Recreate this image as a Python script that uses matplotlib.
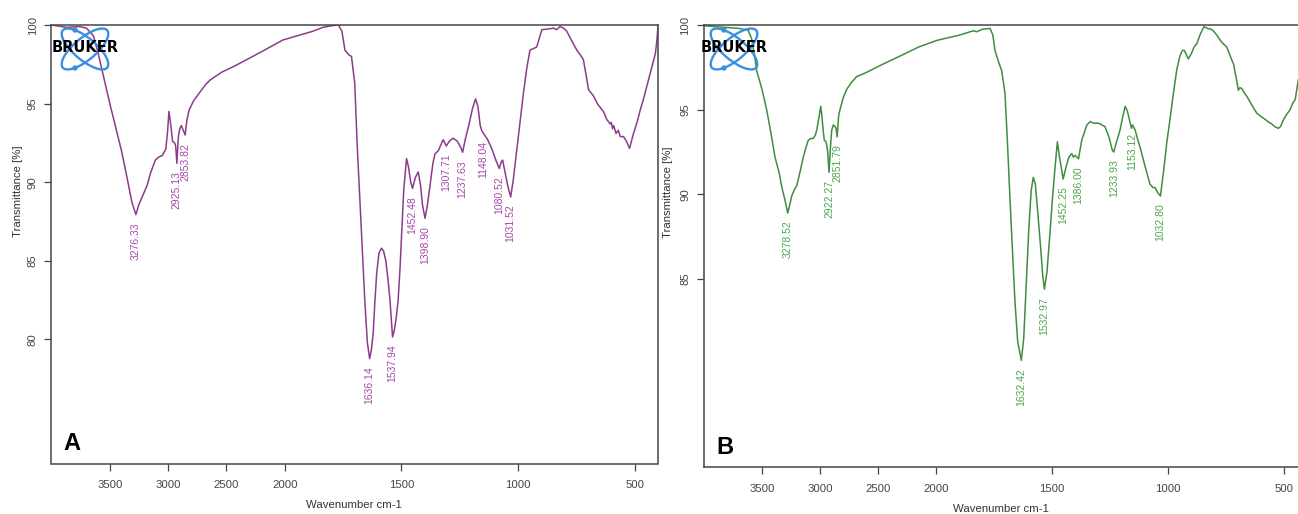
import numpy as np
import matplotlib
matplotlib.use("Agg")
import matplotlib.pyplot as plt
from matplotlib.patches import Ellipse, Circle

plt.rcParams['font.family'] = ['Liberation Sans', 'DejaVu Sans']

# spectrum A (wavenumber cm-1, transmittance %)
wn_a = [4000, 3870, 3760, 3700, 3640, 3600, 3550, 3500, 3450, 3400, 3350, 3310,
        3276.33, 3250, 3220, 3180, 3150, 3110, 3080, 3050, 3020, 3005, 2993,
        2980, 2962, 2945, 2935, 2925.13, 2912, 2900, 2887, 2870, 2853.82, 2840,
        2820, 2780, 2730, 2680, 2640, 2540, 2440, 2300, 2150, 2015, 1950, 1880,
        1837, 1800, 1770, 1755, 1742, 1725, 1714, 1700, 1690, 1678, 1667, 1657,
        1646, 1636.14, 1628, 1621, 1614, 1606, 1596, 1585, 1576, 1567, 1558,
        1549, 1542, 1537.94, 1530, 1522, 1514, 1506, 1499, 1490, 1478, 1470,
        1460, 1452.48, 1440, 1428, 1418, 1410, 1398.90, 1390, 1378, 1365, 1356,
        1342, 1330, 1321, 1314, 1307.71, 1295, 1278, 1260, 1245, 1237.63, 1225,
        1213, 1195, 1182, 1172, 1162, 1156, 1148.04, 1130, 1113, 1095, 1080.52,
        1072, 1066, 1055, 1043, 1031.52, 1020, 1006, 990, 977, 963, 949, 935,
        920, 908, 898, 870, 848, 835, 820, 805, 791, 770, 748, 733, 720, 708,
        698, 688, 677, 660, 645, 634, 620, 605, 600, 595, 590, 580, 570, 562,
        548, 535, 522, 514, 505, 490, 476, 462, 448, 436, 426, 418, 411, 405, 400]
t_a = [100.0, 99.85, 99.9, 99.8, 99.3, 98.2, 96.6, 95.0, 93.5, 92.0, 90.2, 88.7,
       87.94, 88.6, 89.1, 89.8, 90.6, 91.4, 91.6, 91.7, 92.1, 93.2, 94.5,
       93.8, 92.6, 92.5, 92.3, 91.2, 92.9, 93.4, 93.6, 93.3, 93.0, 93.9,
       94.6, 95.2, 95.7, 96.2, 96.5, 97.0, 97.35, 97.9, 98.5, 99.05, 99.3, 99.6,
       99.85, 99.95, 100.0, 99.6, 98.4, 98.1, 98.0, 96.3, 92.5, 88.85, 85.5, 82.5,
       79.8, 78.77, 79.4, 80.4, 82.3, 84.2, 85.5, 85.8, 85.6, 85.0, 83.9,
       82.5, 81.0, 80.15, 80.6, 81.4, 82.5, 84.5, 86.7, 89.5, 91.5, 91.0,
       90.0, 89.6, 90.3, 90.65, 89.8, 88.6, 87.7, 88.4, 89.7, 91.2, 91.8,
       92.0, 92.4, 92.7, 92.5, 92.3, 92.6, 92.8, 92.6, 92.2, 91.9, 92.8,
       93.5, 94.7, 95.3, 94.8, 93.6, 93.3, 93.1, 92.7, 92.15, 91.4, 90.87,
       91.3, 91.4, 90.6, 89.7, 89.06, 90.2, 92.0, 94.0, 95.65, 97.2, 98.4, 98.5,
       98.6, 99.2, 99.7, 99.75, 99.8, 99.7, 99.9, 99.8, 99.6, 99.0, 98.4, 98.1, 97.8, 96.8,
       95.9, 95.7, 95.5, 95.0, 94.7, 94.5, 94.0, 93.7, 93.8, 93.4, 93.6, 93.1, 93.3, 92.9,
       92.9, 92.6, 92.15, 92.6, 93.1, 93.8, 94.6, 95.3, 96.1, 96.8, 97.35, 97.8, 98.2, 99.0, 99.9]

# spectrum B
wn_b = [4000, 3990, 3890, 3700, 3620, 3590, 3560, 3546, 3500, 3460, 3420, 3388,
        3350, 3330, 3300, 3278.52, 3260, 3244, 3220, 3201, 3170, 3144, 3120,
        3101, 3080, 3058, 3040, 3028, 3010, 2994, 2985, 2970, 2963, 2948, 2935,
        2922.27, 2910, 2899, 2885, 2870, 2862, 2851.79, 2840, 2828, 2800, 2770,
        2730, 2684, 2600, 2454, 2300, 2150, 1994, 1900, 1839, 1825, 1800, 1767,
        1755, 1746, 1730, 1717, 1703, 1692, 1681, 1670, 1660, 1648, 1632.42,
        1622, 1612, 1600, 1590, 1581, 1572, 1562, 1550, 1540, 1532.97, 1522,
        1509, 1498, 1487, 1477, 1468, 1458, 1452.25, 1440, 1430, 1422, 1415,
        1408, 1400, 1386.00, 1372, 1360, 1350, 1335, 1322, 1300, 1285, 1272,
        1255, 1240, 1233.93, 1220, 1207, 1195, 1185, 1175, 1165, 1158, 1153.12,
        1142, 1130, 1121, 1100, 1078, 1065, 1056, 1045, 1032.80, 1020, 1006,
        990, 977, 962, 948, 938, 930, 920, 913, 900, 888, 876, 860, 845, 830,
        815, 805, 790, 770, 747, 733, 718, 708, 697, 690, 682, 672, 661, 640,
        618, 600, 589, 570, 553, 540, 525, 515, 503, 490, 474, 462, 452, 445, 439]
t_b = [100.0, 99.95, 99.9, 99.8, 99.7, 99.2, 98.0, 97.3, 96.2, 95.0, 93.5, 92.2,
       91.2, 90.45, 89.6, 88.9, 89.4, 89.9, 90.3, 90.5, 91.4, 92.2, 92.8,
       93.2, 93.3, 93.3, 93.5, 93.8, 94.5, 95.2, 94.7, 93.6, 93.2, 93.1, 92.6,
       91.3, 92.8, 93.8, 94.1, 94.0, 93.9, 93.4, 94.6, 95.0, 95.7, 96.2,
       96.6, 96.95, 97.2, 97.7, 98.2, 98.7, 99.1, 99.4, 99.66, 99.6, 99.75, 99.8,
       99.4, 98.5, 97.8, 97.3, 96.0, 93.0, 89.65, 86.5, 83.7, 81.3, 80.2,
       81.5, 84.5, 88.0, 90.2, 91.0, 90.6, 89.0, 87.0, 85.2, 84.4, 85.4,
       87.7, 89.8, 91.6, 93.1, 92.2, 91.4, 90.9, 91.6, 92.1, 92.3, 92.4,
       92.2, 92.3, 92.1, 93.2, 93.7, 94.1, 94.3, 94.2, 94.2, 94.1, 94.0,
       93.4, 92.6, 92.5, 93.2, 93.8, 94.6, 95.2, 94.9, 94.3, 93.9, 94.1,
       93.8, 93.2, 92.8, 91.7, 90.6, 90.4, 90.4, 90.1, 89.9, 91.3, 93.0,
       94.6, 95.96, 97.4, 98.2, 98.5, 98.5, 98.2, 98.0, 98.3, 98.7, 98.9, 99.5, 99.9, 99.8,
       99.75, 99.66, 99.4, 99.0, 98.7, 98.2, 97.7, 97.0, 96.15, 96.3, 96.25, 96.0, 95.8, 95.3,
       94.8, 94.6, 94.5, 94.3, 94.15, 94.0, 93.9, 94.0, 94.4, 94.7, 95.0, 95.4, 95.6, 96.2, 96.75]

# labelled band positions
peaks_a = [3276.33, 2925.13, 2853.82, 1636.14, 1537.94, 1452.48, 1398.90,
           1307.71, 1237.63, 1148.04, 1080.52, 1031.52]
peaks_b = [3278.52, 2922.27, 2851.79, 1632.42, 1532.97, 1452.25, 1386.00,
           1233.93, 1153.12, 1032.80]

xticks = [3500, 3000, 2500, 2000, 1500, 1000, 500]

W, H = 1298, 514
AXIS_COL = '#454545'


def fwd(x):
    # OPUS style axis: the range above 2000 cm-1 is drawn at half scale
    x = np.asarray(x, float)
    return np.where(x > 2000, 2000 + (x - 2000) / 2.0, x)


def inv(y):
    y = np.asarray(y, float)
    return np.where(y > 2000, 2000 + (y - 2000) * 2.0, y)


def px_axes(fig, x0, y0, x1, y1):
    return fig.add_axes([x0 / W, 1 - y1 / H, (x1 - x0) / W, (y1 - y0) / H])


def logo(fig, cx, cy):
    # atom ellipses + name, drawn in pixel units around (cx, cy)
    lax = px_axes(fig, cx - 30, cy - 26, cx + 30, cy + 26)
    lax.set_xlim(-30, 30)
    lax.set_ylim(26, -26)
    lax.axis('off')
    blue = '#3b8fe2'
    for ang in (40, -40):
        lax.add_patch(Ellipse((0, 0), 58, 22, angle=ang, fill=False,
                              lw=1.7, ec=blue, clip_on=False))
    lax.add_patch(Circle((-10, -19), 2.0, color=blue, clip_on=False))
    lax.add_patch(Circle((-10, 19), 2.0, color=blue, clip_on=False))
    fig.text(cx / W, 1 - (cy - 1) / H, 'BRUKER', ha='center', va='center',
             family='DejaVu Sans', fontweight='bold', fontsize=10.5,
             color='black', zorder=10)


def panel(fig, box, wn, t, peaks, ylim, yticks, xlim, line_col, text_col,
          letter, right_spine=True):
    ax = px_axes(fig, *box)
    ax.set_xscale('function', functions=(fwd, inv))
    ax.plot(wn, t, color=line_col, lw=1.1)
    ax.set_xlim(*xlim)
    ax.set_ylim(*ylim)
    ax.set_xticks(xticks)
    ax.set_yticks(yticks)
    ax.tick_params(colors=AXIS_COL, labelsize=8.2, length=5, width=0.9)
    ax.tick_params(axis='x', pad=7)
    ax.tick_params(axis='y', pad=5, labelrotation=90)
    for lbl in ax.get_yticklabels():
        lbl.set_va('center')
    for s in ax.spines.values():
        s.set_color(AXIS_COL)
        s.set_linewidth(1.1)
    ax.spines['right'].set_visible(right_spine)

    wn_arr = np.array(wn)
    for p in peaks:
        i = np.argmin(np.abs(wn_arr - p))
        ax.annotate('%.2f' % p, xy=(wn[i], t[i]), xytext=(0, -5.5),
                    textcoords='offset points', rotation=90, ha='center',
                    va='top', fontsize=7.5, color=text_col)
    ax.text(12 / (box[2] - box[0]), 8.5 / (box[3] - box[1]), letter,
            transform=ax.transAxes, fontsize=17, fontweight='bold',
            color='black', ha='left', va='bottom')
    return ax


def main():
    fig = plt.figure(figsize=(W / 100, H / 100), dpi=100)

    panel(fig, (51.5, 25, 658, 463.5), wn_a, t_a, peaks_a, (72.1, 100),
          [80, 85, 90, 95, 100], (4000, 400), '#8a3c8a', '#a648a6', 'A')
    panel(fig, (704, 25, 1298, 467), wn_b, t_b, peaks_b, (73.9, 100),
          [85, 90, 95, 100], (4000, 440), '#3f8d3f', '#4ea64e', 'B',
          right_spine=False)

    for x, y in ((18, 191), (668, 192)):
        fig.text(x / W, 1 - y / H, 'Transmittance [%]', rotation=90,
                 ha='center', va='center', fontsize=8.2, color='#333333')
    for x, y in ((354, 505), (1001, 509)):
        fig.text(x / W, 1 - y / H, 'Wavenumber cm-1', ha='center',
                 va='center', fontsize=8.2, color='#333333')

    logo(fig, 85, 49)
    logo(fig, 734, 49)

    fig.savefig('out.png', dpi=100)


if __name__ == "__main__":
    main()
